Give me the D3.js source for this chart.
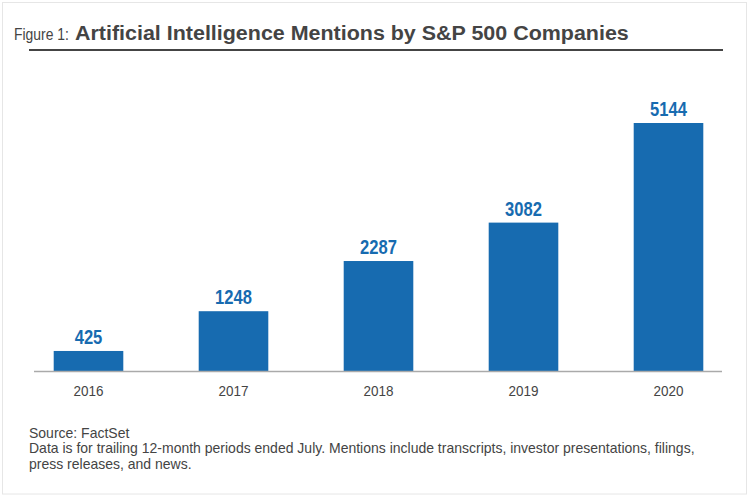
<!DOCTYPE html>
<html>
<head>
<meta charset="utf-8">
<script src="https://cdn.jsdelivr.net/npm/d3@7"></script>
<style>
  body { margin: 0; background: #fff; }
  text { font-family: "Liberation Sans", Arial, sans-serif; }
</style>
</head>
<body>
<div class="canvas"></div>
<script>
const years = ["2016", "2017", "2018", "2019", "2020"];
const mentions = [425, 1248, 2287, 3082, 5144];
const noteLines = [
  "Source: FactSet",
  "Data is for trailing 12-month periods ended July. Mentions include transcripts, investor presentations, filings,",
  "press releases, and news.",
];

const WIDTH = 750,
  HEIGHT = 499,
  BLUE = "#176bb0",
  GREY = "#444";

// the reference uses a condensed face: draw Liberation Sans and squeeze it sideways
function placeText(selection, px, py, factor) {
  selection
    .attr("x", 0)
    .attr("y", 0)
    .attr("transform", (d, i) => `translate(${px(d, i)}, ${py(d, i)}) scale(${factor}, 1)`);
}

const svg = d3
  .select(".canvas")
  .append("svg")
  .attr("width", WIDTH)
  .attr("height", HEIGHT);

// frame
svg
  .append("rect")
  .attr("x", 2.5)
  .attr("y", 2.5)
  .attr("width", 744)
  .attr("height", 491.5)
  .attr("fill", "none")
  .attr("stroke", "#e6e6e6");

// title
const figLabel = svg
  .append("text")
  .attr("font-size", 17)
  .attr("fill", GREY)
  .text("Figure 1:");
figLabel.call(placeText, () => 14, () => 40, 55 / figLabel.node().getComputedTextLength());

const titleText = svg
  .append("text")
  .attr("font-size", 21)
  .attr("font-weight", "bold")
  .attr("fill", GREY)
  .text("Artificial Intelligence Mentions by S&P 500 Companies");
titleText.call(placeText, () => 75, () => 40, 554 / titleText.node().getComputedTextLength());

svg
  .append("line")
  .attr("x1", 29)
  .attr("x2", 723)
  .attr("y1", 50)
  .attr("y2", 50)
  .attr("stroke", GREY)
  .attr("stroke-width", 2);

// scales
const x = d3
  .scaleBand()
  .domain(years)
  .range([16, 741])
  .paddingInner(0.52)
  .paddingOuter(0.26);

const y = d3.scaleLinear().domain([0, 5144]).range([371.5, 123]);

const data = years.map((year, i) => ({ year, value: mentions[i] }));

svg
  .selectAll(".bar")
  .data(data)
  .enter()
  .append("rect")
  .attr("class", "bar")
  .attr("x", (d) => x(d.year))
  .attr("y", (d) => y(d.value))
  .attr("width", x.bandwidth())
  .attr("height", (d) => y(0) - y(d.value))
  .attr("fill", BLUE);

svg
  .selectAll(".value")
  .data(data)
  .enter()
  .append("text")
  .attr("class", "value")
  .attr("text-anchor", "middle")
  .attr("font-size", 19.5)
  .attr("font-weight", "bold")
  .attr("fill", BLUE)
  .text((d) => d.value)
  .call(
    placeText,
    (d) => x(d.year) + x.bandwidth() / 2,
    (d) => y(d.value) - 7,
    0.85
  );

// axis
const axis = svg
  .append("g")
  .attr("transform", `translate(0, ${y(0)})`)
  .call(d3.axisBottom(x).tickSize(0).tickFormat(""));

axis.select(".domain").remove();
axis
  .append("line")
  .attr("x1", 34)
  .attr("x2", 722)
  .attr("stroke", "#aaa")
  .attr("stroke-width", 1.5);

axis
  .selectAll(".tick")
  .append("text")
  .attr("text-anchor", "middle")
  .attr("font-size", 15)
  .attr("fill", GREY)
  .style("font-family", '"Liberation Sans", Arial, sans-serif')
  .text((d) => d)
  .call(placeText, () => 0, () => 24.5, 0.9);

// notes
const notes = svg
  .append("g")
  .selectAll("text")
  .data(noteLines)
  .enter()
  .append("text")
  .attr("font-size", 15)
  .attr("fill", GREY)
  .text((d) => d);

const noteFactor = 666 / notes.nodes()[1].getComputedTextLength();
notes.call(placeText, () => 29, (d, i) => 437.5 + i * 15.5, noteFactor);
</script>
</body>
</html>
